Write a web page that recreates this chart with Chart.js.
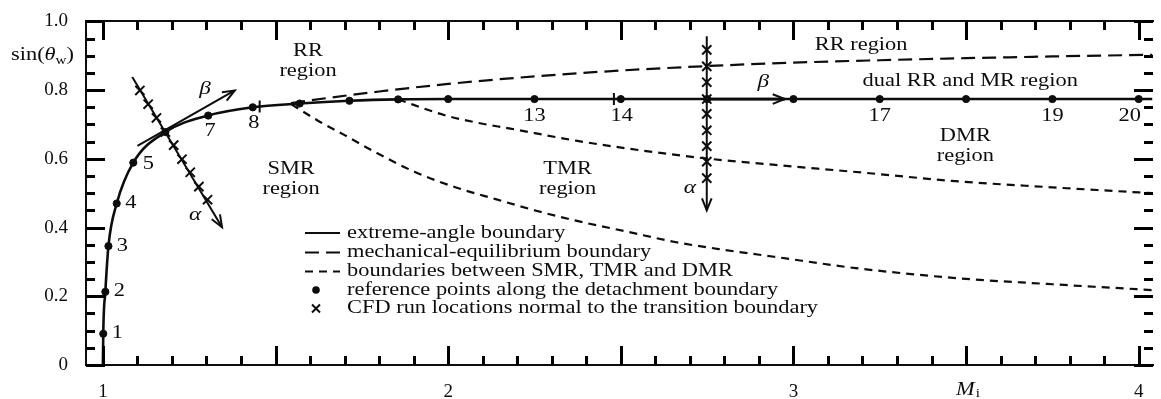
<!DOCTYPE html>
<html>
<head>
<meta charset="utf-8">
<title>Transition boundaries</title>
<script src="https://cdn.jsdelivr.net/npm/chart.js@4.4.1/dist/chart.umd.min.js"></script>
<style>
  html, body { margin: 0; padding: 0; background: #fff; }
  #wrap { width: 1161px; height: 399px; }
</style>
</head>
<body>
<div id="wrap"><canvas id="chart" width="1161" height="399"></canvas></div>
<script>
// reference points along the detachment boundary (numbered 1..20)
const refM   = [1.001, 1.007, 1.016, 1.040, 1.088, 1.181, 1.305, 1.434, 1.570, 1.714, 1.855, 2.0, 2.25, 2.5, 2.75, 3.0, 3.25, 3.5, 3.75, 4.0];
const refSin = [0.091, 0.213, 0.346, 0.470, 0.589, 0.678, 0.726, 0.750, 0.761, 0.769, 0.773, 0.774, 0.774, 0.774, 0.774, 0.774, 0.774, 0.774, 0.774, 0.774];
const refNames = ["1", "2", "3", "4", "5", "", "7", "8", "", "", "", "", "13", "14", "", "", "17", "", "19", "20"];

// extreme-angle boundary: starts at Mi = 1, runs through the reference points
const extremeM   = [1.0].concat(refM, [4.04]);
const extremeSin = [0.0].concat(refSin, [0.774]);

// mechanical-equilibrium boundary
const mechM   = [1.545, 1.65, 1.8, 2.0, 2.25, 2.5, 2.75, 3.0, 3.25, 3.5, 3.75, 4.04];
const mechSin = [0.762, 0.777, 0.796, 0.818, 0.840, 0.857, 0.870, 0.880, 0.887, 0.893, 0.898, 0.903];

// SMR / TMR boundary
const smrM   = [1.546, 1.623, 1.700, 1.795, 1.910, 2.025, 2.140, 2.255, 2.370, 2.523, 2.657, 2.80, 2.944, 3.18, 3.47, 3.75, 4.04];
const smrSin = [0.759, 0.711, 0.669, 0.616, 0.559, 0.516, 0.482, 0.449, 0.420, 0.387, 0.358, 0.335, 0.315, 0.282, 0.253, 0.235, 0.218];

// TMR / DMR boundary
const tmrM   = [1.855, 1.99, 2.08, 2.18, 2.37, 2.52, 2.74, 2.94, 3.2, 3.47, 3.75, 4.04];
const tmrSin = [0.773, 0.727, 0.706, 0.688, 0.653, 0.630, 0.602, 0.583, 0.560, 0.535, 0.517, 0.500];

// CFD run locations normal to the transition boundary
const cfd1M   = [1.107, 1.131, 1.155, 1.181, 1.205, 1.229, 1.253, 1.278, 1.303];
const cfd1Sin = [0.799, 0.759, 0.719, 0.678, 0.640, 0.599, 0.561, 0.519, 0.481];
const cfd2M   = [2.749, 2.749, 2.749, 2.749, 2.749, 2.749, 2.749, 2.749, 2.749];
const cfd2Sin = [0.917, 0.869, 0.823, 0.774, 0.731, 0.683, 0.637, 0.592, 0.544];

// alpha / beta direction arrows (start, tip)
const alpha1M = [1.085, 1.345], alpha1Sin = [0.838, 0.401];
const beta1M  = [1.100, 1.382], beta1Sin  = [0.638, 0.799];
const alpha2M = [2.749, 2.749], alpha2Sin = [0.957, 0.450];
const beta2M  = [2.749, 2.975], beta2Sin  = [0.774, 0.774];

// short transition marks on the boundary
const markM   = [1.454, 2.48];
const markSin = [0.752, 0.774];

// region annotations
const regionText = ["RR\nregion", "SMR\nregion", "TMR\nregion", "RR region", "dual RR and MR region", "DMR\nregion"];
const regionM    = [1.594, 1.545, 2.346, 3.196, 3.512, 3.498];
const regionSin  = [0.884, 0.539, 0.540, 0.931, 0.826, 0.637];
const greekText  = ["\u03B2", "\u03B1", "\u03B2", "\u03B1"];
const greekM     = [1.296, 1.267, 2.913, 2.700];
const greekSin   = [0.802, 0.435, 0.824, 0.516];

// tick positions and labels
const xTickVals = [1.0, 1.1, 1.2, 1.3, 1.4, 1.5, 1.6, 1.7, 1.8, 1.9, 2.0, 2.1, 2.2, 2.3, 2.4, 2.5,
                   2.6, 2.7, 2.8, 2.9, 3.0, 3.1, 3.2, 3.3, 3.4, 3.5, 3.6, 3.7, 3.8, 3.9, 4.0];
const yTickVals = [0, 0.05, 0.1, 0.15, 0.2, 0.25, 0.3, 0.35, 0.4, 0.45, 0.5,
                   0.55, 0.6, 0.65, 0.7, 0.75, 0.8, 0.85, 0.9, 0.95, 1.0];
const xLabelVals = [1, 2, 3, 4];
const xLabelText = ["1", "2", "3", "4"];
const yLabelVals = [0, 0.2, 0.4, 0.6, 0.8, 1.0];
const yLabelText = ["0", "0.2", "0.4", "0.6", "0.8", "1.0"];

const legendText = [
    "extreme-angle boundary",
    "mechanical-equilibrium boundary",
    "boundaries between SMR, TMR and DMR",
    "reference points along the detachment boundary",
    "CFD run locations normal to the transition boundary"
];

// ---- styling ----
const ink = "#0d0d0d";
const SERIF = "'Liberation Serif', 'DejaVu Serif', serif";
const SX = 1.26;               // the printed figure is stretched horizontally
const FONT = "17.8px " + SERIF;
const ITALIC = "italic 17.8px " + SERIF;
const SMALL = "12px " + SERIF;
const LONG_DASH = [14, 7];
const SHORT_DASH = [8, 6];
// label offsets (px) for the numbered reference points
const refLabelDx = [14, 14, 14, 14, 15, 0, 2, 1, 0, 0, 0, 0, 0, 1, 0, 0, 0, 0, 0, -9];
const refLabelDy = [0, 0, 0, 0, 2, 0, 16, 16, 0, 0, 0, 0, 17, 17, 0, 0, 17, 0, 17, 17];

const pts = (xs, ys) => xs.map((x, i) => ({ x: x, y: ys[i] }));

function curve(label, xs, ys, dash, width) {
    return {
        label: label,
        data: pts(xs, ys),
        showLine: true,
        borderColor: ink,
        borderWidth: width,
        borderDash: dash,
        pointRadius: 0,
        cubicInterpolationMode: "monotone",
        fill: false
    };
}

function stretchText(ctx, str, x, y, align, font) {
    ctx.font = font;
    const w = ctx.measureText(str).width * SX;
    let left = x;
    if (align === "center") left = x - w / 2;
    else if (align === "right") left = x - w;
    ctx.save();
    ctx.translate(left, y);
    ctx.scale(SX, 1);
    ctx.textAlign = "left";
    ctx.textBaseline = "middle";
    ctx.fillText(str, 0, 0);
    ctx.restore();
    return w;
}

function arrowHead(ctx, p0, p1) {
    const a = Math.atan2(p1.y - p0.y, p1.x - p0.x);
    const len = 13, spread = 0.38;
    ctx.beginPath();
    ctx.moveTo(p1.x - len * Math.cos(a - spread), p1.y - len * Math.sin(a - spread));
    ctx.lineTo(p1.x, p1.y);
    ctx.lineTo(p1.x - len * Math.cos(a + spread), p1.y - len * Math.sin(a + spread));
    ctx.stroke();
}

function isMultiple(v, step) {
    const r = v / step;
    return Math.abs(r - Math.round(r)) < 1e-6;
}

const decorations = {
    id: "decorations",
    afterDraw(chart) {
        const ctx = chart.ctx;
        const xs = chart.scales.x, ys = chart.scales.y;
        const area = chart.chartArea;
        const L = Math.round(area.left), R = Math.round(area.right);
        const T = Math.round(area.top), B = Math.round(area.bottom);
        ctx.save();
        ctx.strokeStyle = ink;
        ctx.fillStyle = ink;
        ctx.setLineDash([]);

        // frame
        ctx.fillRect(L - 1, T - 1, R - L + 2, 2);
        ctx.fillRect(L - 1, B - 1, R - L + 2, 2);
        ctx.fillRect(L - 1, T - 1, 2, B - T + 2);

        // inward tick marks on all four sides
        ctx.fillStyle = "#000000";
        for (let i = 0; i < xTickVals.length; i++) {
            const v = xTickVals[i];
            const px = Math.round(xs.getPixelForValue(v));
            const len = isMultiple(v, 0.5) ? 19 : 9;
            ctx.fillRect(px - 1, B - len, 3, len);
            ctx.fillRect(px - 1, T, 3, len);
        }
        for (let i = 0; i < yTickVals.length; i++) {
            const v = yTickVals[i];
            const py = Math.round(ys.getPixelForValue(v));
            const len = isMultiple(v, 0.2) ? 19 : 9;
            ctx.fillRect(L, py - 1, len, 3);
            ctx.fillRect(R - len, py - 1, len, 3);
        }
        ctx.fillStyle = ink;

        // arrowheads on the alpha / beta lines
        ctx.lineWidth = 2;
        chart.data.datasets.forEach((ds, i) => {
            if (!ds.arrow) return;
            const d = chart.getDatasetMeta(i).data;
            arrowHead(ctx, d[0], d[d.length - 1]);
        });

        // region labels
        regionText.forEach((txt, i) => {
            const lines = txt.split("\n");
            const cx = xs.getPixelForValue(regionM[i]);
            const cy = ys.getPixelForValue(regionSin[i]);
            lines.forEach((ln, k) => {
                stretchText(ctx, ln, cx, cy + (k - (lines.length - 1) / 2) * 20, "center", FONT);
            });
        });
        greekText.forEach((g, i) => {
            stretchText(ctx, g, xs.getPixelForValue(greekM[i]), ys.getPixelForValue(greekSin[i]), "center", "italic 18.5px " + SERIF);
        });

        // numbers beside the reference points
        refNames.forEach((n, i) => {
            if (!n) return;
            const px = xs.getPixelForValue(refM[i]) + refLabelDx[i];
            const py = ys.getPixelForValue(refSin[i]) + refLabelDy[i];
            stretchText(ctx, n, px, py, "center", FONT);
        });

        // axis titles
        const sy = ys.getPixelForValue(0.9);
        const right = area.left - 12;
        ctx.font = FONT;
        const w1 = ctx.measureText("sin(").width * SX;
        ctx.font = ITALIC;
        const w2 = ctx.measureText("\u03B8").width * SX;
        ctx.font = SMALL;
        const w3 = ctx.measureText("w").width * SX;
        ctx.font = FONT;
        const w4 = ctx.measureText(")").width * SX;
        let x0 = right - (w1 + w2 + w3 + w4);
        x0 += stretchText(ctx, "sin(", x0, sy, "left", FONT);
        x0 += stretchText(ctx, "\u03B8", x0, sy, "left", ITALIC);
        x0 += stretchText(ctx, "w", x0, sy + 5, "left", SMALL);
        stretchText(ctx, ")", x0, sy, "left", FONT);

        const mx = xs.getPixelForValue(3.5) - 10;
        const my = area.bottom + 25;
        const wm = stretchText(ctx, "M", mx, my, "left", ITALIC);
        stretchText(ctx, "i", mx + wm + 1, my + 4, "left", SMALL);

        // legend
        const lx = area.left + 219, tx = area.left + 261;
        const rowY = [233, 252.5, 271.5, 290, 308.5];
        ctx.lineWidth = 2.2;
        const dashes = [[], LONG_DASH, SHORT_DASH];
        dashes.forEach((d, k) => {
            ctx.setLineDash(d);
            ctx.beginPath();
            ctx.moveTo(lx, rowY[k]);
            ctx.lineTo(lx + 35, rowY[k]);
            ctx.stroke();
        });
        ctx.setLineDash([]);
        ctx.beginPath();
        ctx.arc(lx + 11, rowY[3], 3.8, 0, Math.PI * 2);
        ctx.fill();
        ctx.lineWidth = 2;
        ctx.beginPath();
        ctx.moveTo(lx + 7, rowY[4] - 4);
        ctx.lineTo(lx + 15, rowY[4] + 4);
        ctx.moveTo(lx + 15, rowY[4] - 4);
        ctx.lineTo(lx + 7, rowY[4] + 4);
        ctx.stroke();
        legendText.forEach((t, k) => stretchText(ctx, t, tx, rowY[k], "left", FONT));

        ctx.restore();
    }
};

function labelFor(v, vals, texts) {
    const k = vals.findIndex(a => Math.abs(a - v) < 1e-6);
    return k >= 0 ? texts[k] : "";
}

const datasets = [
    curve("extreme-angle boundary", extremeM, extremeSin, [], 2.6),
    curve("mechanical-equilibrium boundary", mechM, mechSin, LONG_DASH, 2.2),
    curve("boundaries between SMR, TMR and DMR", smrM, smrSin, SHORT_DASH, 2.2),
    curve("TMR/DMR boundary", tmrM, tmrSin, SHORT_DASH, 2.2),
    Object.assign(curve("alpha 1", alpha1M, alpha1Sin, [], 2), { arrow: true, cubicInterpolationMode: "default" }),
    Object.assign(curve("beta 1", beta1M, beta1Sin, [], 2), { arrow: true, cubicInterpolationMode: "default" }),
    Object.assign(curve("alpha 2", alpha2M, alpha2Sin, [], 2), { arrow: true, cubicInterpolationMode: "default" }),
    Object.assign(curve("beta 2", beta2M, beta2Sin, [], 2.8), { arrow: true, cubicInterpolationMode: "default" }),
    {
        label: "transition marks",
        data: pts(markM, markSin),
        showLine: false,
        pointStyle: "line",
        rotation: 90,
        pointRadius: 6,
        borderColor: ink,
        borderWidth: 2
    },
    {
        label: "CFD run locations normal to the transition boundary",
        data: pts(cfd1M, cfd1Sin).concat(pts(cfd2M, cfd2Sin)),
        showLine: false,
        pointStyle: "crossRot",
        pointRadius: 6.5,
        borderColor: ink,
        borderWidth: 2
    },
    {
        label: "reference points along the detachment boundary",
        data: pts(refM, refSin),
        showLine: false,
        pointStyle: "circle",
        pointRadius: 3.6,
        backgroundColor: ink,
        borderColor: ink,
        borderWidth: 1
    }
];

new Chart(document.getElementById("chart"), {
    type: "scatter",
    data: { datasets: datasets },
    plugins: [decorations],
    options: {
        responsive: false,
        animation: false,
        events: [],
        layout: { padding: { top: 16, right: 0, left: 0, bottom: 0 } },
        plugins: { legend: { display: false }, tooltip: { enabled: false } },
        scales: {
            x: {
                type: "linear",
                min: 0.951,
                max: 4.04,
                grid: { display: false },
                border: { display: false },
                afterBuildTicks: s => { s.ticks = xTickVals.map(v => ({ value: v })); },
                afterFit: s => { s.height = 34; },
                ticks: {
                    autoSkip: false,
                    maxRotation: 0,
                    padding: 8,
                    color: ink,
                    font: { family: SERIF, size: 19 },
                    callback: v => labelFor(v, xLabelVals, xLabelText)
                }
            },
            y: {
                type: "linear",
                min: 0,
                max: 1,
                grid: { display: false },
                border: { display: false },
                afterBuildTicks: s => { s.ticks = yTickVals.map(v => ({ value: v })); },
                afterFit: s => { s.width = 86; },
                ticks: {
                    autoSkip: false,
                    padding: 10,
                    color: ink,
                    font: { family: SERIF, size: 19 },
                    callback: v => labelFor(v, yLabelVals, yLabelText)
                }
            }
        }
    }
});
</script>
</body>
</html>
